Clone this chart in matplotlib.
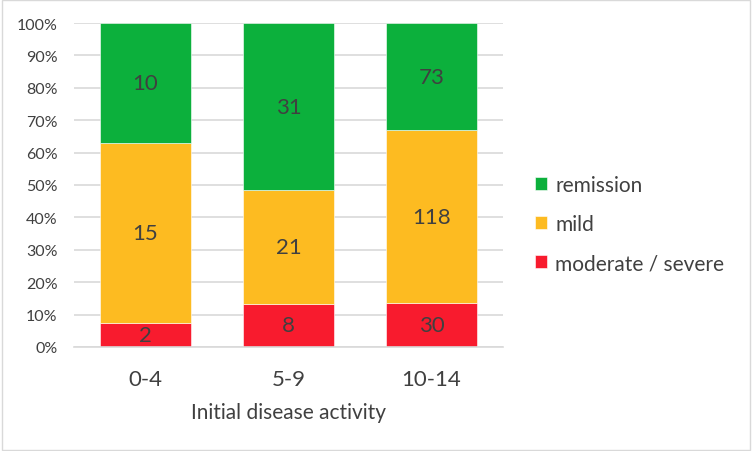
import numpy as np
import matplotlib.pyplot as plt
from matplotlib.patches import Rectangle

plt.rcParams['font.family'] = ['Lato', 'DejaVu Sans']

groups = ["0-4", "5-9", "10-14"]
series = ["moderate / severe", "mild", "remission"]
moderate_severe = [2, 8, 30]
mild = [15, 21, 118]
remission = [10, 31, 73]
colors = ["#f81b2e", "#fdbb21", "#0cb03c"]
txt = "#404040"

counts = np.array([moderate_severe, mild, remission], dtype=float)
shares = counts / counts.sum(axis=0)

fig = plt.figure(figsize=(7.52, 4.52), dpi=100)
ax = fig.add_axes([0.0984, 0.2301, 0.5705, 0.7168])

x = np.arange(len(groups))
bottom = np.zeros(len(groups))
handles = []
for i, name in enumerate(series):
    b = ax.bar(x, shares[i], 0.64, bottom=bottom, color=colors[i], label=name,
               edgecolor="white", linewidth=0.4, zorder=2)
    handles.append(b)
    for j in range(len(groups)):
        ax.text(x[j], bottom[j] + shares[i][j] / 2, str(int(counts[i][j])),
                ha="center", va="center", fontsize=16, color=txt, zorder=3)
    bottom += shares[i]

ax.set_xlim(-0.5, 2.5)
ax.set_ylim(0, 1)
ax.set_yticks(np.arange(0, 1.01, 0.1))
ax.set_yticklabels([f"{int(round(v * 100))}%" for v in np.arange(0, 1.01, 0.1)])
ax.set_xticks(x)
ax.set_xticklabels(groups)
ax.yaxis.grid(True, color="#d9d9d9", linewidth=1.2, zorder=0)
ax.set_axisbelow(True)
for s in ["top", "right", "left"]:
    ax.spines[s].set_visible(False)
ax.spines["bottom"].set_color("#d9d9d9")
ax.spines["bottom"].set_linewidth(1.2)
ax.tick_params(axis="y", length=0, pad=12, labelsize=11.5, labelcolor=txt)
ax.tick_params(axis="x", length=0, pad=16, labelsize=16, labelcolor=txt)
ax.set_xlabel("Initial disease activity", fontsize=15, color=txt, labelpad=9)

ax.legend(handles[::-1], series[::-1], loc="center left", bbox_to_anchor=(1.03, 0.38),
          frameon=False, fontsize=15, labelcolor=txt, handlelength=0.58,
          handleheight=0.58, handletextpad=0.4, labelspacing=0.92)

fig.patches.append(Rectangle((0.002, 0.002), 0.996, 0.996, transform=fig.transFigure,
                             fill=False, edgecolor="#d9d9d9", linewidth=1))

fig.savefig("out.png", dpi=100)
